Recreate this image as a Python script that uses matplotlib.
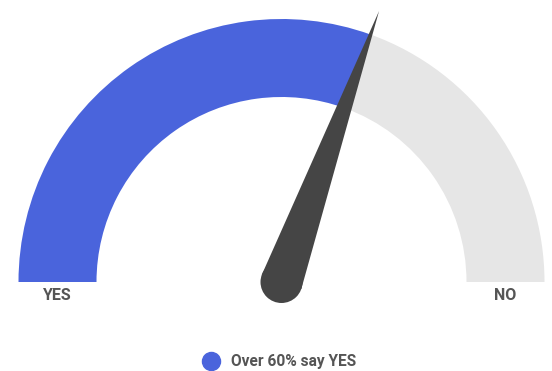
import numpy as np
import matplotlib
matplotlib.use('Agg')
import matplotlib.pyplot as plt
from matplotlib.patches import Wedge, Circle, Polygon
from matplotlib.lines import Line2D

plt.rcParams['font.family'] = ['Roboto', 'DejaVu Sans']

# Data
categories = ['YES', 'NO']
shares = [61, 39]
needle_value = 61
legend_label = 'Over 60% say YES'
colors = ['#4a64dc', '#e6e6e6']

# Gauge geometry (pixel units, y up)
cx, cy = 281.5, 89
r_out, r_in = 263, 185
needle_len, needle_w = 288, 21

fig = plt.figure(figsize=(5.52, 3.71), dpi=100)
ax = fig.add_axes([0, 0, 1, 1])
ax.set_xlim(0, 552)
ax.set_ylim(0, 371)
ax.axis('off')

# Arc segments, YES starting from the left
start = 180
total = sum(shares)
for share, color in zip(shares, colors):
    sweep = 180 * share / total
    ax.add_patch(Wedge((cx, cy), r_out, start - sweep, start, width=r_out - r_in,
                       facecolor=color, edgecolor='none', zorder=1))
    start -= sweep

# Needle
ang = np.radians(180 - 180 * needle_value / total)
tip = (cx + needle_len * np.cos(ang), cy + needle_len * np.sin(ang))
perp = ang + np.pi / 2
p1 = (cx + needle_w * np.cos(perp), cy + needle_w * np.sin(perp))
p2 = (cx - needle_w * np.cos(perp), cy - needle_w * np.sin(perp))
ax.add_patch(Polygon([p1, tip, p2], closed=True, facecolor='#454545', edgecolor='none', zorder=3))
ax.add_patch(Circle((cx, cy), needle_w, facecolor='#454545', edgecolor='none', zorder=3))

# End labels
ax.text(cx - (r_out + r_in) / 2, cy - 14, categories[0], ha='center', va='center',
        fontsize=11.5, fontweight='bold', color='#555555')
ax.text(cx + (r_out + r_in) / 2, cy - 14, categories[1], ha='center', va='center',
        fontsize=11.5, fontweight='bold', color='#555555')

# Legend
handle = Line2D([], [], marker='o', linestyle='none', markersize=13,
                markerfacecolor=colors[0], markeredgecolor=colors[0])
leg = fig.legend([handle], [legend_label], loc='center', bbox_to_anchor=(0.5, 0.025),
                 frameon=False, handletextpad=0.3, prop={'size': 11.2, 'weight': 'bold'})
for t in leg.get_texts():
    t.set_color('#555555')

fig.savefig('out.png', dpi=100)
